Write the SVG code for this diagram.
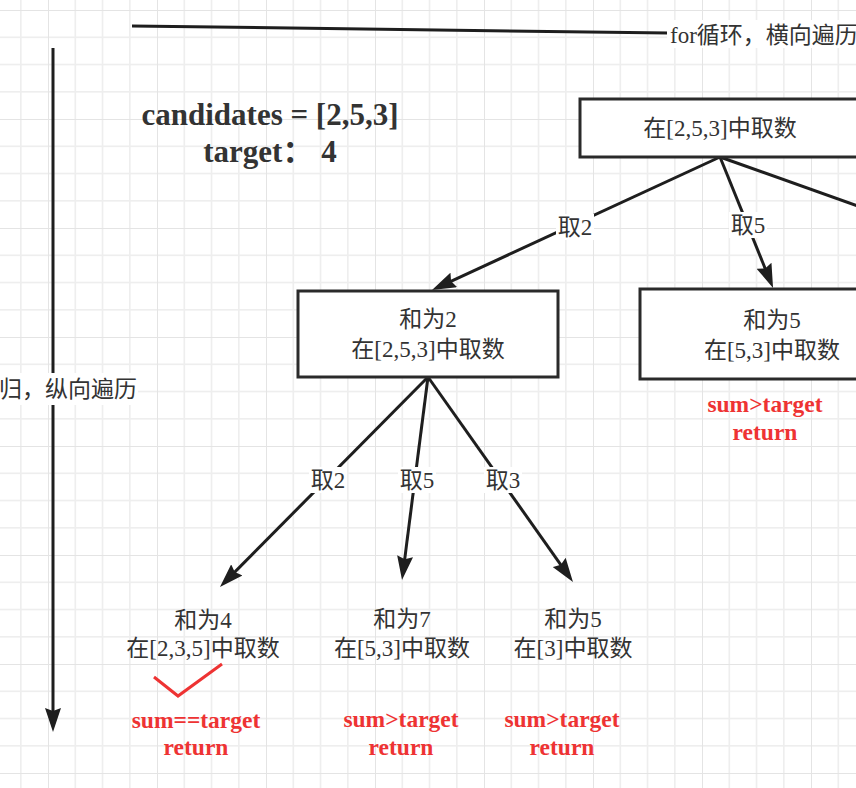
<svg xmlns="http://www.w3.org/2000/svg" width="856" height="788" viewBox="0 0 856 788">
<defs>
<pattern id="grid" patternUnits="userSpaceOnUse" x="48" y="10" width="109" height="109">
<rect width="109" height="109" fill="#ffffff"/>
<g fill="#eeeeee">
<rect x="26.5" y="0" width="1.6" height="109"/>
<rect x="53.75" y="0" width="1.6" height="109"/>
<rect x="81" y="0" width="1.6" height="109"/>
<rect x="0" y="26.5" width="109" height="1.6"/>
<rect x="0" y="53.75" width="109" height="1.6"/>
<rect x="0" y="81" width="109" height="1.6"/>
</g>
<g fill="#e4e4e4">
<rect x="-0.8" y="0" width="1.8" height="109"/>
<rect x="0" y="-0.8" width="109" height="1.8"/>
</g>
</pattern>
<marker id="arr" markerUnits="userSpaceOnUse" viewBox="0 0 24 16" markerWidth="24" markerHeight="16" refX="14" refY="8" orient="auto">
<path d="M0,0 L24,8 L0,16 L3,8 z" fill="#1e1e1e"/>
</marker>
<style>
.box{fill:#ffffff;stroke:#2a2a2a;stroke-width:3}
.t{font-family:"Liberation Serif","Noto Sans CJK SC",serif;font-size:23px;fill:#333333;text-anchor:middle}
.big{font-family:"Liberation Serif","Noto Sans CJK SC",serif;font-size:31px;font-weight:bold;fill:#333333;text-anchor:middle}
.red{font-family:"Liberation Serif","Noto Sans CJK SC",serif;font-size:23.5px;font-weight:bold;fill:#ee3333;text-anchor:middle}
.edge{fill:none;stroke:#1e1e1e;stroke-width:3}
.lbl{fill:#ffffff}
</style>
</defs>
<rect width="856" height="788" fill="url(#grid)"/>

<g id="connectors">
<path class="edge" d="M132,26 L668,33"/>
<path class="edge" d="M53,48 L53,722" marker-end="url(#arr)"/>
<path class="edge" d="M720,157 L441.1,285.8" marker-end="url(#arr)"/>
<path class="edge" d="M720,157 L769.3,278.7" marker-end="url(#arr)"/>
<path class="edge" d="M720,157 L900,221"/>
<path class="edge" d="M428,377 L227,579.9" stroke="#2e2e2e" marker-end="url(#arr)"/>
<path class="edge" d="M428,377 L403.3,570.1" marker-end="url(#arr)"/>
<path class="edge" d="M428,377 L567.2,573.8" marker-end="url(#arr)"/>
<g id="edge-labels">
<rect class="lbl" x="667" y="20" width="200" height="28"/>
<text class="t" x="670" y="43" style="text-anchor:start">for循环，横向遍历</text>
<rect class="lbl" x="-30" y="373" width="168" height="32"/>
<text class="t" x="137" y="397" style="text-anchor:end">递归，纵向遍历</text>
<rect class="lbl" x="556" y="214" width="38" height="26"/>
<text class="t" x="575" y="235">取2</text>
<rect class="lbl" x="729" y="212" width="38" height="26"/>
<text class="t" x="748" y="233">取5</text>
<rect class="lbl" x="309" y="467" width="38" height="26"/>
<text class="t" x="328" y="488">取2</text>
<rect class="lbl" x="398" y="467" width="38" height="26"/>
<text class="t" x="417" y="488">取5</text>
<rect class="lbl" x="484" y="467" width="38" height="26"/>
<text class="t" x="503" y="488">取3</text>
</g>
</g>

<g id="title">
<text class="big" x="270" y="125">candidates = [2,5,3]</text>
<text class="big" x="270" y="162">target： 4</text>
</g>

<g id="node-root">
<rect class="box" x="580" y="99" width="280" height="58"/>
<text class="t" x="720" y="136">在[2,5,3]中取数</text>
</g>

<g id="node-sum2">
<rect class="box" x="298" y="291" width="260" height="86"/>
<text class="t" x="428" y="327">和为2</text>
<text class="t" x="428" y="357">在[2,5,3]中取数</text>
</g>

<g id="node-sum5">
<rect class="box" x="640" y="289" width="264" height="90"/>
<text class="t" x="772" y="328">和为5</text>
<text class="t" x="772" y="358">在[5,3]中取数</text>
<text class="red" x="765" y="412">sum&gt;target</text>
<text class="red" x="765" y="440">return</text>
</g>

<g id="node-sum4">
<text class="t" x="203" y="628">和为4</text>
<text class="t" x="203" y="656">在[2,3,5]中取数</text>
<polyline points="154,677 178,696 222,664" fill="none" stroke="#ee3333" stroke-width="3"/>
<text class="red" x="196" y="728">sum==target</text>
<text class="red" x="196" y="755">return</text>
</g>

<g id="node-sum7">
<text class="t" x="402" y="627">和为7</text>
<text class="t" x="402" y="656">在[5,3]中取数</text>
<text class="red" x="401" y="727">sum&gt;target</text>
<text class="red" x="401" y="755">return</text>
</g>

<g id="node-sum5b">
<text class="t" x="573" y="627">和为5</text>
<text class="t" x="573" y="656">在[3]中取数</text>
<text class="red" x="562" y="727">sum&gt;target</text>
<text class="red" x="562" y="755">return</text>
</g>
</svg>
